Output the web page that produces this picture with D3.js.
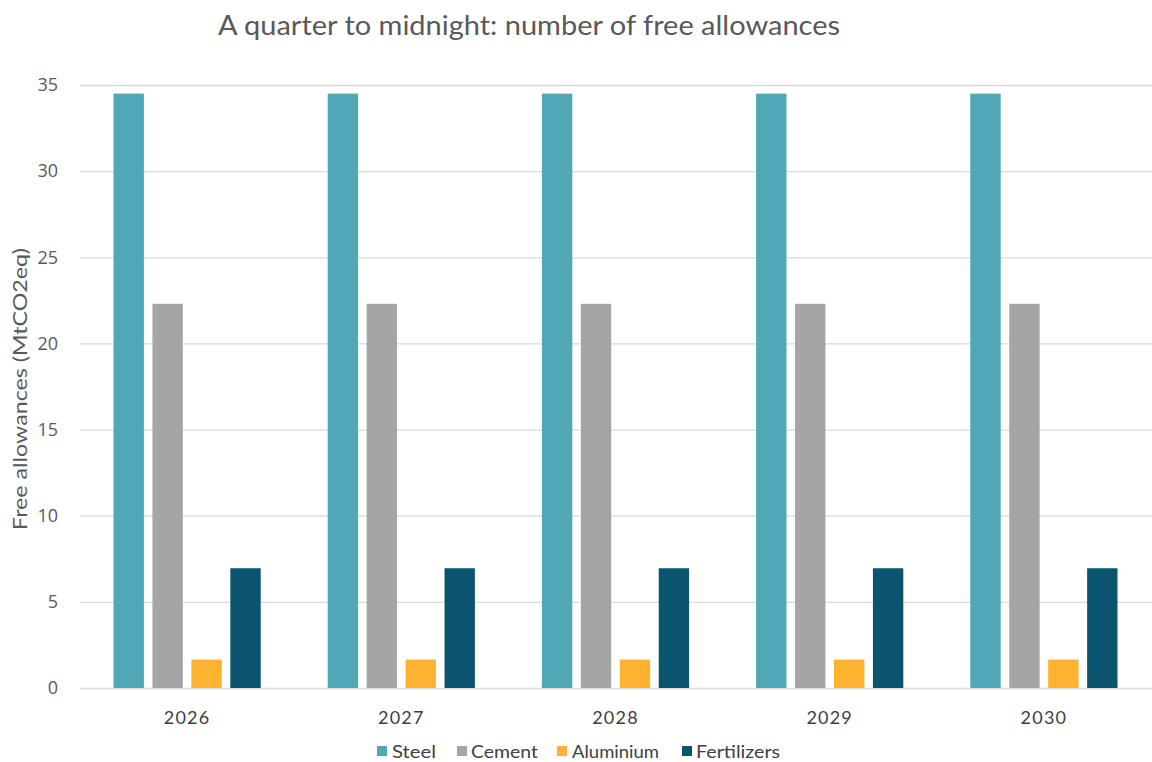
<!DOCTYPE html>
<html><head><meta charset="utf-8">
<script src="https://cdn.jsdelivr.net/npm/d3@7"></script>
<style>body{margin:0;background:#fff}svg{display:block}</style>
</head><body>
<svg id="c" width="1152" height="762"></svg>
<script>
const years = ["2026","2027","2028","2029","2030"];
const seriesNames = ["Steel","Cement","Aluminium","Fertilizers"];
const steel = [34.5,34.5,34.5,34.5,34.5];
const cement = [22.3,22.3,22.3,22.3,22.3];
const aluminium = [1.65,1.65,1.65,1.65,1.65];
const fertilizers = [6.95,6.95,6.95,6.95,6.95];
const yTicks = [0,5,10,15,20,25,30,35];
const colors = ["#50A8B7","#A5A5A5","#FDB32F","#0B546F"];

(function(){
const seriesValues = [steel,cement,aluminium,fertilizers];
const svg = d3.select("#c");
const pLeft = 80, pRight = 1151, pTop = 85, pBottom = 688;
const x = d3.scaleBand().domain(years).range([pLeft,pRight]).paddingInner(0).paddingOuter(0);
const x1 = d3.scaleBand().domain(seriesNames).range([33.5, x.bandwidth()-33.5]).paddingInner(0.22).paddingOuter(0);
const y = d3.scaleLinear().domain([0,35]).range([pBottom,pTop]);
const font = "'Open Sans', Lato, sans-serif";
const tfont = "Lato, 'Open Sans', sans-serif";

svg.append("text").attr("x",218).attr("y",35)
  .attr("font-family",tfont).attr("font-size",26).attr("fill","#595959")
  .attr("textLength",622).attr("lengthAdjust","spacingAndGlyphs")
  .text("A quarter to midnight: number of free allowances");

const gy = svg.append("g").attr("transform",`translate(${pLeft},0)`)
  .call(d3.axisLeft(y).tickValues(yTicks).tickSize(-(pRight-pLeft+1)).tickFormat(d3.format("d")).tickPadding(22));
gy.select(".domain").remove();
gy.selectAll(".tick line").attr("stroke","#D9D9D9").attr("stroke-width",1.3);
gy.selectAll(".tick text").attr("font-family",font).attr("font-size",18).attr("fill","#595959");

svg.append("text").attr("transform",`translate(27,389) rotate(-90)`)
  .attr("text-anchor","middle").attr("font-family",tfont).attr("font-size",20).attr("fill","#595959")
  .attr("textLength",282).attr("lengthAdjust","spacingAndGlyphs")
  .text("Free allowances (MtCO2eq)");

const groups = svg.append("g").selectAll("g").data(years).join("g")
  .attr("transform",d=>`translate(${x(d)},0)`);
groups.selectAll("rect").data((d,i)=>seriesNames.map((s,j)=>({s,j,v:seriesValues[j][i]})))
  .join("rect")
  .attr("x",d=>x1(d.s)).attr("width",x1.bandwidth())
  .attr("y",d=>y(d.v)).attr("height",d=>y(0)-y(d.v))
  .attr("fill",d=>colors[d.j]);

const gx = svg.append("g").attr("transform",`translate(0,${pBottom})`)
  .call(d3.axisBottom(x).tickSize(0).tickPadding(23));
gx.select(".domain").remove();
gx.selectAll(".tick text").attr("font-family",tfont).attr("font-size",18).attr("fill","#404040").attr("letter-spacing","1.2px");

const legendItems = [
  {name:"Steel", x:377, tx:392, w:44},
  {name:"Cement", x:457, tx:471, w:67},
  {name:"Aluminium", x:557, tx:572, w:87},
  {name:"Fertilizers", x:682, tx:696, w:84}
];
const lg = svg.append("g").selectAll("g").data(legendItems).join("g")
  .attr("transform",`translate(0,758)`);
lg.append("rect").attr("x",d=>d.x).attr("y",-12).attr("width",10).attr("height",10)
  .attr("fill",(d,i)=>colors[i]);
lg.append("text").attr("x",d=>d.tx).attr("y",0).attr("font-family",tfont)
  .attr("font-size",18).attr("fill","#404040")
  .attr("textLength",d=>d.w).attr("lengthAdjust","spacingAndGlyphs").text(d=>d.name);
})();
</script>
</body></html>
